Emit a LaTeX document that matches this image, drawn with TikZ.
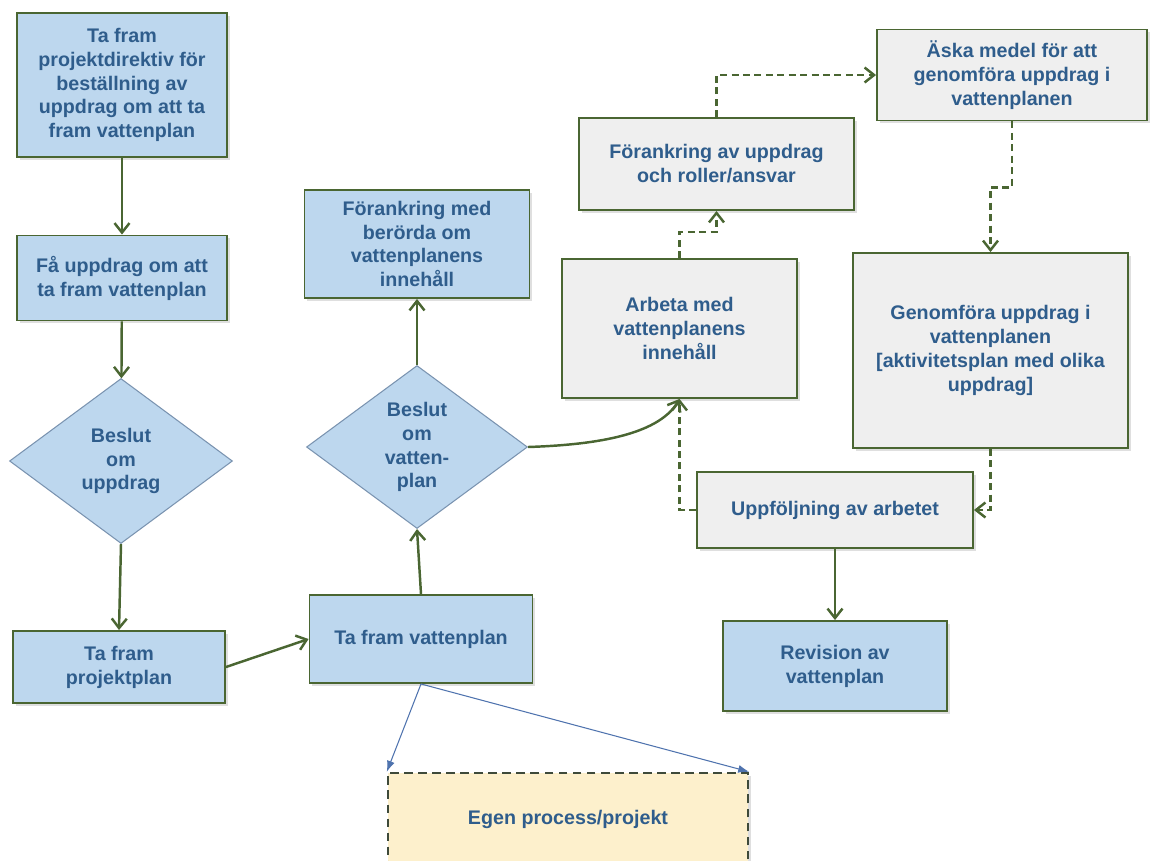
\documentclass[tikz,border=0pt]{standalone}
\usepackage{fontspec}
\setmainfont{Liberation Sans}
\usepackage{xcolor}
\usepackage{tikz}
\usetikzlibrary{arrows.meta, positioning, calc, shapes.geometric, shadows}
\definecolor{vpgreen}{HTML}{4A6632}
\definecolor{vpblue}{HTML}{BDD7EE}
\definecolor{vpgrey}{HTML}{EFEFEF}
\definecolor{vptext}{HTML}{2F5D8C}
\definecolor{vpline}{HTML}{7A93B0}
\definecolor{vpthin}{HTML}{4F73AE}
\definecolor{vpyellow}{HTML}{FDF0CC}
\definecolor{vpdark}{HTML}{3E4A3A}
\tikzset{
  vbox/.style={draw=vpgreen, line width=1.1pt, fill=vpblue, align=center, inner sep=3pt, text=vptext, font=\fontsize{11.2}{13.6}\selectfont\bfseries, drop shadow={shadow xshift=1.5pt, shadow yshift=-1.5pt, opacity=0.25}},
  vgrey/.style={vbox, fill=vpgrey},
  vown/.style={vbox, fill=vpyellow, draw=vpdark, line width=1.4pt, dash pattern=on 5pt off 3pt},
  vdec/.style={diamond, draw=vpline, line width=0.6pt, fill=vpblue, align=center, inner sep=0pt, text=vptext, font=\fontsize{11.2}{13.6}\selectfont\bfseries},
  vflow/.style={-{Straight Barb[length=1.9mm, width=3mm]}, line width=1.4pt, vpgreen},
  vdash/.style={vflow, line width=1.4pt, dash pattern=on 4pt off 2.5pt},
  vthin/.style={-{Latex[length=2.2mm, width=1.6mm]}, line width=0.6pt, vpthin},
}
\begin{document}
\begin{tikzpicture}[x=0.02cm, y=-0.02cm]
    \useasboundingbox (0,0) rectangle (1152,860);
    \node[vbox, minimum width=4.2cm, minimum height=2.88cm] (direktiv) at (122,85) {Ta fram\\projektdirektiv för\\beställning av\\uppdrag om att ta\\fram vattenplan};
    \node[vbox, minimum width=4.2cm, minimum height=1.7cm] (fauppdrag) at (122,278) {Få uppdrag om att\\ta fram vattenplan};
    \node[vdec, minimum width=4.46cm, minimum height=3.3cm] (besuppdrag) at (121,461) {Beslut\\om\\uppdrag};
    \node[vbox, minimum width=4.24cm, minimum height=1.44cm] (projplan) at (119,667) {Ta fram\\projektplan};
    \node[vbox, minimum width=4.46cm, minimum height=1.76cm] (tafram) at (421,639) {Ta fram vattenplan};
    \node[vdec, minimum width=4.42cm, minimum height=3.26cm] (besvatten) at (417,447) {Beslut\\om\\vatten-\\plan};
    \node[vbox, minimum width=4.5cm, minimum height=2.16cm] (forberorda) at (417,244) {Förankring med\\berörda om\\vattenplanens\\innehåll};
    \node[vgrey, minimum width=4.7cm, minimum height=2.78cm] (arbeta) at (679.5,328.5) {Arbeta med\\vattenplanens\\innehåll};
    \node[vgrey, minimum width=5.5cm, minimum height=1.84cm] (forank) at (716.5,164) {Förankring av uppdrag\\och roller/ansvar};
    \node[vgrey, minimum width=5.4cm, minimum height=1.82cm] (aska) at (1012,75) {Äska medel för att\\genomföra uppdrag i\\vattenplanen};
    \node[vgrey, minimum width=5.5cm, minimum height=3.9cm] (genom) at (990.5,350.5) {Genomföra uppdrag i\\vattenplanen\\{[}aktivitetsplan med olika\\uppdrag]};
    \node[vgrey, minimum width=5.52cm, minimum height=1.52cm] (uppf) at (835,510) {Uppföljning av arbetet};
    \node[vbox, minimum width=4.48cm, minimum height=1.8cm] (revision) at (835,666) {Revision av\\vattenplan};
    \node[vown, minimum width=7.2cm, minimum height=1.84cm] (egen) at (568,819) {Egen process/projekt};
    \draw[vflow] (direktiv) -- (fauppdrag);
    \draw[vflow] (fauppdrag) -- (besuppdrag);
    \draw[vflow] (besuppdrag.south) -- (projplan.north);
    \draw[vflow] (projplan.east) -- (tafram.west);
    \draw[vflow] (tafram.north) -- (besvatten.south);
    \draw[vflow] (besvatten.north) -- (forberorda.south);
    \draw[vflow] (besvatten.east) .. controls +(60,-2) and +(-22,38) .. (arbeta.south);
    \draw[vdash] (arbeta.north) -- ++(0,-26) -| (forank.south);
    \draw[vdash] (forank.north) |- (aska.west);
    \draw[vdash] (aska.south) -- ++(0,66) -| (genom.north);
    \draw[vdash] (genom.south) |- (uppf.east);
    \draw[vdash] (uppf.west) -| (arbeta.south);
    \draw[vflow] (uppf) -- (revision);
    \draw[vthin] (tafram.south) -- (egen.north west);
    \draw[vthin] (tafram.south) -- (egen.north east);
  \end{tikzpicture}
\end{document}
